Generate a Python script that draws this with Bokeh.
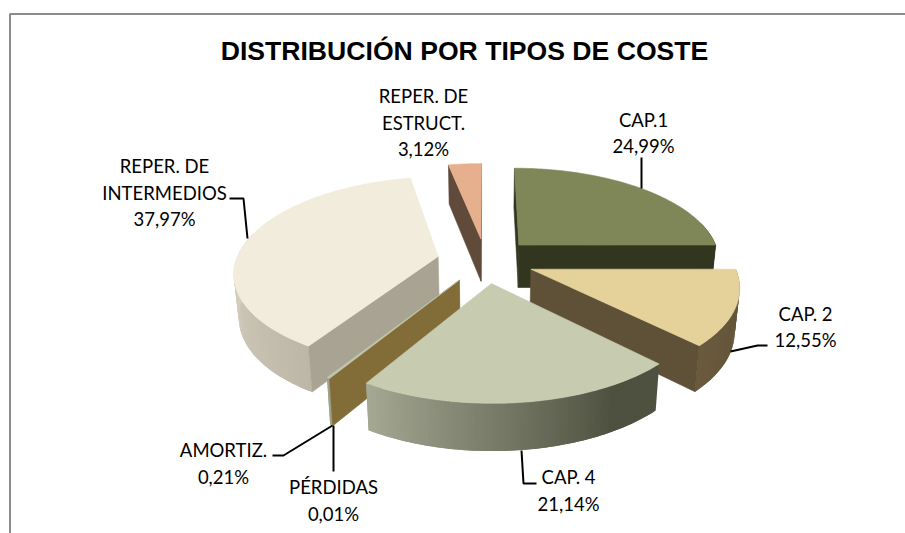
import math
from bokeh.plotting import figure
from bokeh.models import ColumnDataSource
from bokeh.core.properties import value
from bokeh.embed import file_html
from bokeh.resources import INLINE

TITLE = "DISTRIBUCIÓN POR TIPOS DE COSTE"
names = ["CAP.1", "CAP. 2", "CAP. 4", "PÉRDIDAS", "AMORTIZ.", "REPER. DE INTERMEDIOS", "REPER. DE ESTRUCT."]
percent = [24.99, 12.55, 21.14, 0.01, 0.21, 37.97, 3.12]
top_colors = ["#7F8657", "#E5D29A", "#C7CBB0", "#BFC4AA", "#BFC4AA", "#F2ECDC", "#E6B08E"]
cut_colors = ["#32361F", "#5F5038", "#50523F", "#8F937E", "#826D38", "#A9A394", "#604A3A"]
rim_start = ["#32361F", "#5F5038", "#4F5140", "#9FA38E", "#9FA38E", "#BDB7A7", "#604A3A"]
rim_end = ["#32361F", "#6A5A3E", "#A5A994", "#9FA38E", "#9FA38E", "#DDD7C7", "#604A3A"]
ramp_from = [0.0, 0.0, 0.2, 0.0, 0.0, 0.0, 0.0]
ramp_to = [1.0, 1.0, 1.0, 1.0, 1.0, 0.55, 1.0]

# label text lines, their centres and leader lines (page pixels)
labels = [
    ("CAP.1", 643, 119), ("24,99%", 643, 145),
    ("CAP. 2", 805, 313), ("12,55%", 805, 339),
    ("CAP. 4", 568, 476), ("21,14%", 568, 503),
    ("PÉRDIDAS", 333, 486), ("0,01%", 333, 513),
    ("AMORTIZ.", 223, 449), ("0,21%", 223, 476),
    ("REPER. DE", 164, 165), ("INTERMEDIOS", 164, 192), ("37,97%", 164, 218),
    ("REPER. DE", 423, 95), ("ESTRUCT.", 423, 122), ("3,12%", 423, 148),
]
leaders = [
    ([641, 641], [157, 188]),
    ([730, 757, 767], [351, 345, 345]),
    ([521, 523, 536], [450, 483, 483]),
    ([333, 333], [425, 471]),
    ([272, 283, 332], [455, 455, 425]),
    ([229, 243, 247], [198, 198, 238]),
]

# projection of the exploded disc
CX, CY, RX, RY, K, EXPLODE, DEPTH, DEPTH_K, SHRINK = 485.0, 260.0, 202.0, 93.2, 0.155, 0.24, 43.0, 0.08, 0.02


def project(X, Z, h):
    s = 1.0 / (1.0 + K * Z)
    return CX + RX * X * s * (1 - SHRINK * h), CY - RY * Z * s + h * DEPTH / (1.0 + DEPTH_K * Z)


def mix(c1, c2, t):
    a = [int(c1[i:i + 2], 16) for i in (1, 3, 5)]
    b = [int(c2[i:i + 2], 16) for i in (1, 3, 5)]
    return "#%02X%02X%02X" % tuple(round(p + (q - p) * t) for p, q in zip(a, b))


def area(pts):
    return sum(pts[i][0] * pts[(i + 1) % len(pts)][1] - pts[(i + 1) % len(pts)][0] * pts[i][1] for i in range(len(pts)))


total = sum(percent)
spans = []
acc = 0.0
for v in percent:
    spans.append((acc / total * 2 * math.pi, (acc + v) / total * 2 * math.pi))
    acc += v

polys = {}
for i, (t0, t1) in enumerate(spans):
    mid = (t0 + t1) / 2
    ox, oz = EXPLODE * math.sin(mid), EXPLODE * math.cos(mid)
    n = max(2, int(math.degrees(t1 - t0)))
    ts = [t0 + (t1 - t0) * j / n for j in range(n + 1)]

    def P(t, r, h):
        return project(ox + r * math.sin(t), oz + r * math.cos(t), h)

    out = []
    # rim, a strip of small overlapping quads shaded along the arc
    for j in range(n):
        a, b = ts[j], ts[min(j + 2, n)]
        if math.cos((a + b) / 2) < 0.25:
            q = [P(t, 1, 0) for t in (a, ts[j + 1], b)] + [P(t, 1, 1) for t in (b, ts[j + 1], a)]
            f = ((j + 0.5) / n - ramp_from[i]) / (ramp_to[i] - ramp_from[i])
            out.append((q, mix(rim_start[i], rim_end[i], min(1.0, max(0.0, f))), 0.0))
    # cut faces, when they face the viewer
    for t, sign, in ((t0, -1), (t1, 1)):
        q = [P(t, 0, 0), P(t, 1, 0), P(t, 1, 1), P(t, 0, 1)]
        if area(q) * sign > 0:
            out.append((q, cut_colors[i], 1.0))
    # top
    out.append(([P(0, 0, 0)] + [P(t, 1, 0) for t in ts], top_colors[i], 1.0))
    polys[i] = out

paint_order = [6, 0, 1, 5, 3, 4, 2]
xs, ys, cs, la = [], [], [], []
for i in paint_order:
    for q, c, a in polys[i]:
        xs.append([p[0] for p in q])
        ys.append([p[1] for p in q])
        cs.append(c)
        la.append(a)

p = figure(width=905, height=533, x_range=(0, 905), y_range=(533, 0),
           output_backend="svg", toolbar_location=None, min_border=0)
p.axis.visible = False
p.grid.visible = False
p.outline_line_color = None

p.line([9.5, 9.5, 905], [533, 13.5, 13.5], line_color="#8C8C8C", line_width=2)
p.patches("xs", "ys", fill_color="c", line_color="c", line_alpha="la", line_width=0.6,
          source=ColumnDataSource(dict(xs=xs, ys=ys, c=cs, la=la)))
p.multi_line([l[0] for l in leaders], [l[1] for l in leaders], line_color="black", line_width=2)
p.text([464], [50], text=[TITLE], text_font=value("Liberation Sans"), text_font_style="bold",
       text_font_size="26.6px", text_align="center", text_baseline="middle", text_color="black")
p.text([l[1] for l in labels], [l[2] for l in labels], text=[l[0] for l in labels],
       text_font=value("Lato"), text_font_size="18.5px", text_align="center",
       text_baseline="middle", text_color="black")

open("out.html", "w").write(file_html(p, INLINE))
